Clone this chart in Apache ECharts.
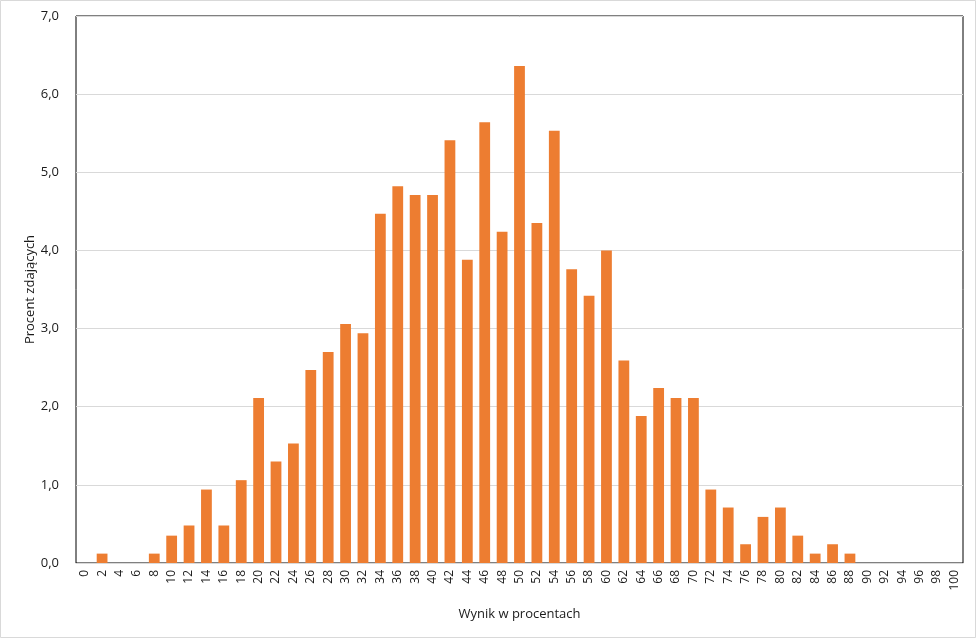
<!DOCTYPE html>
<html>
<head>
<meta charset="utf-8">
<script src="https://cdn.jsdelivr.net/npm/echarts@6/dist/echarts.min.js"></script>
<style>
html,body{margin:0;padding:0;background:#fff;}
#chart{width:977px;height:638px;}
</style>
</head>
<body>
<div id="chart"></div>
<script>
const categories = ["0","2","4","6","8","10","12","14","16","18","20","22","24","26","28","30","32","34","36","38","40","42","44","46","48","50","52","54","56","58","60","62","64","66","68","70","72","74","76","78","80","82","84","86","88","90","92","94","96","98","100"];
const values = [0,0.12,0,0,0.12,0.35,0.48,0.94,0.48,1.06,2.11,1.30,1.53,2.47,2.70,3.06,2.94,4.47,4.82,4.71,4.71,5.41,3.88,5.64,4.24,6.36,4.35,5.53,3.76,3.42,4.00,2.59,1.88,2.24,2.11,2.11,0.94,0.71,0.24,0.59,0.71,0.35,0.12,0.24,0.12,0,0,0,0,0,0];
const yMin = 0, yMax = 7, yStep = 1;
const xTitle = "Wynik w procentach";
const yTitle = "Procent zdających";

const font = "'Open Sans', 'Noto Sans', sans-serif";
const chart = echarts.init(document.getElementById('chart'), null, {renderer:'canvas'});
chart.setOption({
  animation:false,
  backgroundColor:'#fff',
  graphic:[{type:'rect', shape:{x:0.5,y:0.5,width:975,height:637}, style:{fill:'none',stroke:'#d9d9d9',lineWidth:1}, z:100}],
  grid:{left:76,right:14,top:16,bottom:75,show:true,borderColor:'#000',borderWidth:1,backgroundColor:'transparent'},
  xAxis:{
    type:'category', data:categories,
    name:xTitle, nameLocation:'middle', nameGap:45,
    nameTextStyle:{fontFamily:font,fontSize:13,color:'#1a1a1a'},
    axisLine:{show:true,lineStyle:{color:'#d9d9d9',width:1}},
    axisTick:{show:false},
    axisLabel:{interval:0,rotate:90,margin:7,fontFamily:font,fontSize:12,color:'#1a1a1a'},
    z:10
  },
  yAxis:{
    type:'value', min:yMin, max:yMax, interval:yStep,
    name:yTitle, nameLocation:'middle', nameGap:39, nameMoveOverlap:false,
    nameTextStyle:{fontFamily:font,fontSize:13,color:'#1a1a1a'},
    axisLine:{show:false}, axisTick:{show:false},
    splitLine:{lineStyle:{color:'#d9d9d9',width:1}},
    axisLabel:{margin:17,fontFamily:font,fontSize:13,color:'#1a1a1a',formatter:v=>v.toFixed(1).replace('.',',')}
  },
  series:[{type:'bar',data:values,barWidth:'62%',itemStyle:{color:'#ED7D31'}}]
});
</script>
</body>
</html>
